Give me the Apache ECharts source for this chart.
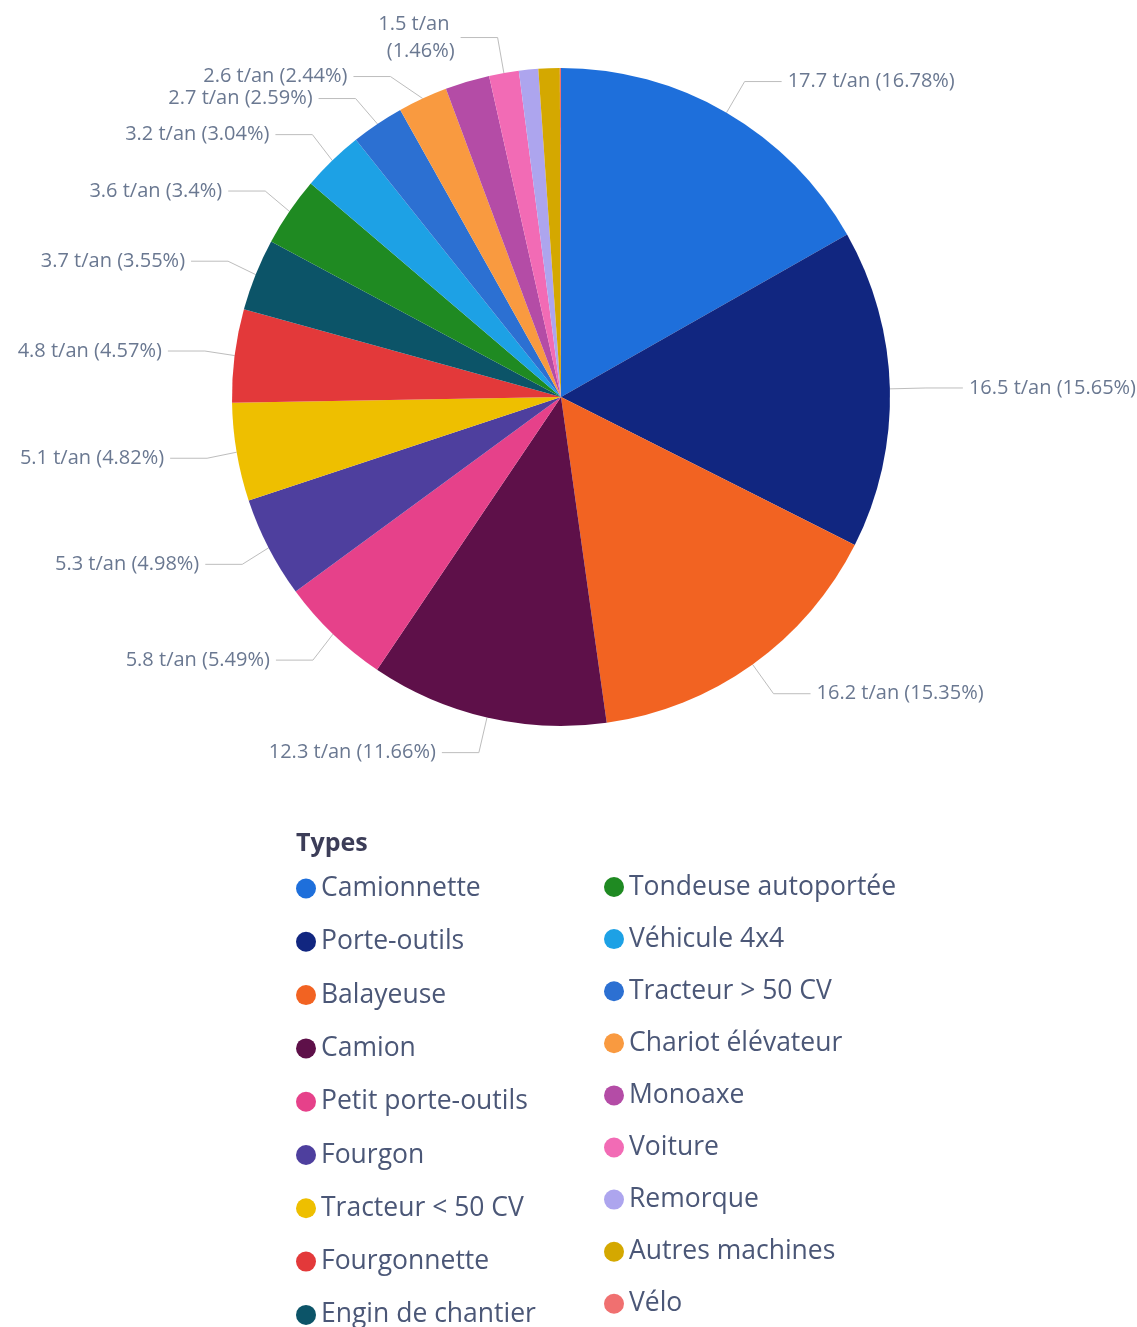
<!DOCTYPE html>
<html lang="fr">
<head>
<meta charset="utf-8">
<title>Types</title>
<script src="https://cdn.jsdelivr.net/npm/echarts@6/dist/echarts.min.js"></script>
<style>
  html, body { margin: 0; padding: 0; background: #ffffff; }
  #chart { width: 1137px; height: 1327px; }
</style>
</head>
<body>
<div id="chart"></div>
<script>
// Vehicle / machine types, ordered as in the legend (clockwise from 12 o'clock)
const types = [
  'Camionnette', 'Porte-outils', 'Balayeuse', 'Camion', 'Petit porte-outils',
  'Fourgon', 'Tracteur < 50 CV', 'Fourgonnette', 'Engin de chantier',
  'Tondeuse autoportée', 'Véhicule 4x4', 'Tracteur > 50 CV', 'Chariot élévateur',
  'Monoaxe', 'Voiture', 'Remorque', 'Autres machines', 'Vélo'
];

// Emissions per type, in t/an
const tonnesPerYear = [
  17.70, 16.51, 16.19, 12.30, 5.79,
  5.25, 5.08, 4.82, 3.74,
  3.59, 3.21, 2.73, 2.57,
  2.30, 1.54, 1.00, 1.10, 0.06
];

const typeColors = [
  '#1E6FDB', '#112680', '#F26322', '#5E1049', '#E6418A',
  '#4E3F9E', '#EEBF00', '#E3393A', '#0C5468',
  '#1F8A22', '#1DA1E5', '#2C70D2', '#F99A40',
  '#B44CA6', '#F26BB5', '#ADA5EE', '#D4A800', '#F07070'
];

// Slices too thin to carry a readable label
const unlabeled = ['Monoaxe', 'Remorque', 'Autres machines', 'Vélo'];
// Labels that wrap onto two lines
const wrapped = ['Voiture'];

const total = tonnesPerYear.reduce((a, b) => a + b, 0);

const pieData = types.map((name, i) => {
  const item = { name: name, value: tonnesPerYear[i], itemStyle: { color: typeColors[i] } };
  if (unlabeled.includes(name)) {
    item.label = { show: false };
    item.labelLine = { show: false };
  } else if (wrapped.includes(name)) {
    item.label = { width: 82, overflow: 'break', lineHeight: 27 };
  }
  return item;
});

const chart = echarts.init(document.getElementById('chart'), null, { renderer: 'canvas' });

const legendText = {
  color: '#4B5777',
  fontFamily: 'Open Sans',
  fontSize: 26.5,
  lineHeight: 26
};

const legendBase = {
  orient: 'vertical',
  padding: 0,
  height: 700,
  icon: 'circle',
  itemWidth: 20,
  itemHeight: 20,
  selectedMode: false,
  textStyle: legendText
};

chart.setOption({
  animation: false,
  backgroundColor: '#ffffff',
  color: typeColors,
  title: {
    text: 'Types',
    left: 291,
    top: 826,
    textStyle: { color: '#3C3D58', fontFamily: 'Open Sans', fontWeight: 'bold', fontSize: 25 }
  },
  legend: [
    Object.assign({}, legendBase, {
      left: 296,
      top: 875,
      itemGap: 26.3,
      data: types.slice(0, 9)
    }),
    Object.assign({}, legendBase, {
      left: 604,
      top: 873.5,
      itemGap: 25.1,
      data: types.slice(9)
    })
  ],
  series: [
    {
      type: 'pie',
      left: 0,
      top: 0,
      right: -40,
      bottom: 0,
      center: [561, 397],
      radius: [0, 329],
      startAngle: 90,
      clockwise: true,
      avoidLabelOverlap: true,
      itemStyle: { borderWidth: 0 },
      emphasis: { disabled: true },
      label: {
        show: true,
        position: 'outside',
        color: '#6A7891',
        fontFamily: 'Open Sans',
        fontSize: 20,
        distanceToLabelLine: 6,
        formatter: function (p) {
          const pct = Math.round(p.value / total * 10000) / 100;
          return p.value.toFixed(1) + ' t/an (' + pct + '%)';
        }
      },
      labelLine: {
        show: true,
        length: 36,
        length2: 37,
        lineStyle: { color: '#BDBDBD', width: 1 }
      },
      data: pieData
    }
  ]
});
</script>
</body>
</html>
